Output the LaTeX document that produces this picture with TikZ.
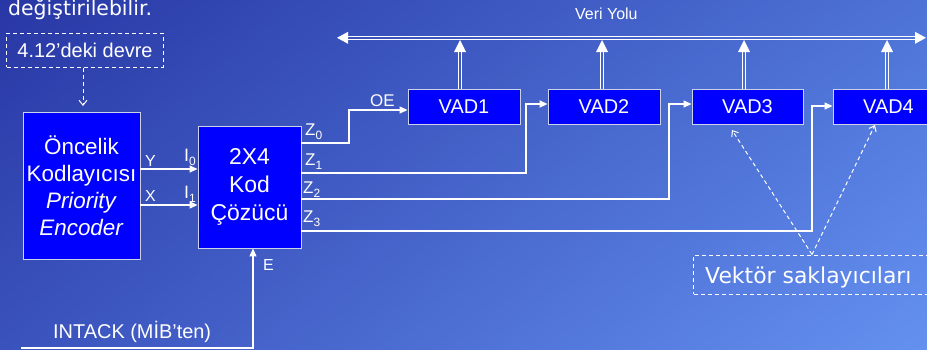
\documentclass[tikz,border=0pt]{standalone}
\usepackage{fontspec}
\setmainfont{Liberation Sans}
\newfontfamily\comicf{DejaVu Sans}
\usetikzlibrary{arrows.meta,calc,shadings}
\definecolor{bgUL}{RGB}{40,55,165}
\definecolor{bgUR}{RGB}{78,115,215}
\definecolor{bgLL}{RGB}{58,82,188}
\definecolor{bgLR}{RGB}{100,145,240}
\definecolor{pureblue}{RGB}{0,0,255}
\definecolor{boxedge}{RGB}{205,210,235}
\newcommand{\fsz}[1]{\fontsize{#1}{#1}\selectfont}
\newcommand{\subs}[1]{\raisebox{-4bp}{\fsz{12}#1}}
\begin{document}
\begin{tikzpicture}[x=1bp,y=-1bp,
  blk/.style={draw=boxedge, line width=0.9bp, fill=pureblue, text=white, inner sep=0pt, align=center},
  wire/.style={draw=white, line width=1.3bp},
  tipc/.style={-{Triangle[length=8bp,width=7bp]}},
  tipo/.style={-{Straight Barb[length=5bp,width=8bp]}},
  dsh/.style={draw=white, dash pattern=on 4bp off 3bp, line width=1bp},
  lbl/.style={text=white, inner sep=0pt, anchor=base west},
  dbl/.style={draw=white, line width=1bp}]
\shade[upper left=bgUL, upper right=bgUR, lower left=bgLL, lower right=bgLR] (0,0) rectangle (927,349);
\useasboundingbox (0,0) rectangle (927,349);

% top text (cut off as in the original)
\node[lbl, font=\comicf\fsz{20.5}] (topt) at (8,15) {değiştirilebilir.};

% source dashed box
\node[dsh, text=white, minimum width=156bp, minimum height=34bp, inner sep=0pt, font=\fsz{20}] (src) at (85,50) {4.12'deki devre};

% main blocks
\node[blk, minimum width=117bp, minimum height=147bp, font=\fontsize{22.5}{27}\selectfont] (prio) at (81.5,186)
  {Öncelik\\Kodlayıcısı\\\textit{Priority}\\\textit{Encoder}};
\node[blk, minimum width=103bp, minimum height=122bp, font=\fontsize{23}{28.5}\selectfont] (dec) at (249.5,187)
  {2X4\\Kod\\Çözücü};

\node[blk, minimum width=112bp, minimum height=35bp, font=\fsz{20}] (vad1) at (464,106.5) {VAD1};
\node[blk, minimum width=112bp, minimum height=35bp, font=\fsz{20}] (vad2) at (604,106.5) {VAD2};
\node[blk, minimum width=111bp, minimum height=35bp, font=\fsz{20}] (vad3) at (747.5,106.5) {VAD3};
\node[blk, minimum width=111bp, minimum height=35bp, font=\fsz{20}] (vad4) at (888.5,106.5) {VAD4};

% vector registers box
\node[dsh, text=white, minimum width=256bp, minimum height=39bp, inner sep=0pt, anchor=west] (vek) at (693,274.5) {};
\node[lbl, font=\comicf\fsz{22}] (vekt) at (705,283) {Vektör saklayıcıları};

% dashed arrow from source
\draw[dsh, tipo, shorten >=6bp] (src.south -| 83,0) -- (prio.north -| 83,0);

% Y / X inputs
\draw[wire, tipc] (prio.east |- 0,169) -- (dec.west |- 0,169);
\draw[wire, tipc] (prio.east |- 0,205) -- (dec.west |- 0,205);
\node[lbl, font=\fsz{16}] (ly) at (145,166) {Y};
\node[lbl, font=\fsz{16}] (lx) at (145,201) {X};
\node[lbl, font=\fsz{18}] (li0) at (184,161) {I\subs{0}};
\node[lbl, font=\fsz{18}] (li1) at (184,198) {I\subs{1}};

% Z outputs
\node[lbl, font=\fsz{17}] (lz0) at (305,135) {Z\subs{0}};
\node[lbl, font=\fsz{17}] (lz1) at (305,165) {Z\subs{1}};
\node[lbl, font=\fsz{17}] (lz2) at (303,193) {Z\subs{2}};
\node[lbl, font=\fsz{17}] (lz3) at (303,222) {Z\subs{3}};
\draw[wire, tipc] (dec.east |- 0,143) -| (349,110) -- (vad1.west |- 0,110);
\draw[wire, tipc, line width=1.8bp] (dec.east |- 0,173) -| (526,104) -- (vad2.west |- 0,104);
\draw[wire, tipc] (dec.east |- 0,199) -| (669,104) -- (vad3.west |- 0,104);
\draw[wire, tipc] (dec.east |- 0,231) -| (812,106) -- (vad4.west |- 0,106);
\node[lbl, font=\fsz{17}] (loe) at (370,106) {OE};

% E input
\coordinate (ia) at (21,348);
\draw[wire, tipc] (ia) -| (dec.south -| 253,0);
\node[lbl, font=\fsz{16}] (le) at (263,270) {E};
\node[lbl, font=\fsz{20}] (lint) at (53,338) {INTACK (MİB'ten)};

% data bus
\coordinate (busL) at (337,37.8);
\coordinate (busR) at (926,37.8);
\draw[dbl] ($(busL)+(10,-1.6)$) -- ($(busR)+(-10,-1.6)$);
\draw[dbl] ($(busL)+(10,1.6)$) -- ($(busR)+(-10,1.6)$);
\fill[white] (busL) -- ++(11,-6) -- ++(0,12) -- cycle;
\fill[white] (busR) -- ++(-11,-6) -- ++(0,12) -- cycle;
\node[lbl, font=\fsz{16}] (lbus) at (575,19) {Veri Yolu};

\foreach \n/\xx in {vad1/460, vad2/602, vad3/744, vad4/887} {
  \coordinate (b\n) at (\n.north -| \xx,0);
  \coordinate (t\n) at (\xx,40);
  \draw[dbl] ($(b\n)+(-1.6,0)$) -- ($(t\n)+(-1.6,11)$);
  \draw[dbl] ($(b\n)+(1.6,0)$) -- ($(t\n)+(1.6,11)$);
  \fill[white] (t\n) -- ++(-6,12) -- ++(12,0) -- cycle;
}

% dashed arrows to VAD3 and VAD4
\coordinate (vk) at (vek.north -| 812,0);
\coordinate (v3) at (732,130);
\coordinate (v4) at (875,125);
\draw[dsh, tipo] (vk) -- (v3);
\draw[dsh, tipo] (vk) -- (v4);
\end{tikzpicture}
\end{document}
